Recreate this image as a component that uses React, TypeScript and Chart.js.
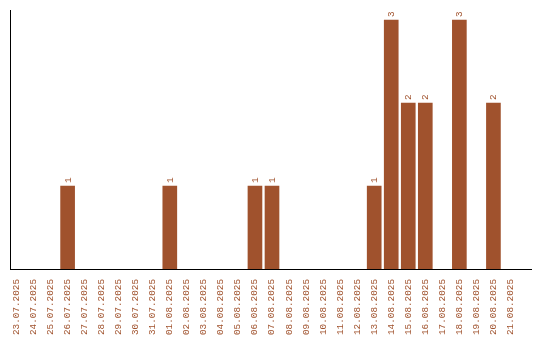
import React, { useEffect, useRef } from "react";
import { Chart, registerables } from "chart.js";

Chart.register(...registerables);

const dateLabels: string[] = [
  "23.07.2025", "24.07.2025", "25.07.2025", "26.07.2025", "27.07.2025",
  "28.07.2025", "29.07.2025", "30.07.2025", "31.07.2025", "01.08.2025",
  "02.08.2025", "03.08.2025", "04.08.2025", "05.08.2025", "06.08.2025",
  "07.08.2025", "08.08.2025", "09.08.2025", "10.08.2025", "11.08.2025",
  "12.08.2025", "13.08.2025", "14.08.2025", "15.08.2025", "16.08.2025",
  "17.08.2025", "18.08.2025", "19.08.2025", "20.08.2025", "21.08.2025",
];

const counts: number[] = [
  0, 0, 0, 1, 0,
  0, 0, 0, 0, 1,
  0, 0, 0, 0, 1,
  1, 0, 0, 0, 0,
  0, 1, 3, 2, 2,
  0, 3, 0, 2, 0,
];

const BROWN = "#A0522D";
const FONT = "'Liberation Mono', monospace";
const FONT_SIZE = 9.33;

const valueLabels = {
  id: "valueLabels",
  afterDatasetsDraw(chart: any) {
    const ctx = chart.ctx;
    const meta = chart.getDatasetMeta(0);
    ctx.save();
    ctx.fillStyle = BROWN;
    ctx.font = `${FONT_SIZE}px ${FONT}`;
    ctx.textAlign = "left";
    ctx.textBaseline = "middle";
    meta.data.forEach((el: any, i: number) => {
      const v = counts[i];
      if (!v) return;
      ctx.save();
      ctx.translate(el.x + 0.5, el.y - 3);
      ctx.rotate(-Math.PI / 2);
      ctx.fillText(String(v), 0, 0);
      ctx.restore();
    });
    ctx.restore();
  },
};

export default function App() {
  const canvasRef = useRef<HTMLCanvasElement | null>(null);

  useEffect(() => {
    if (!canvasRef.current) return;
    const chart = new Chart(canvasRef.current, {
      type: "bar",
      data: {
        datasets: [
          {
            data: counts.map((c, i) => ({ x: i, y: c === 0 ? null : c })),
            backgroundColor: BROWN,
            borderWidth: 0,
            barThickness: 14,
          },
        ],
      },
      options: {
        animation: false,
        responsive: true,
        maintainAspectRatio: false,
        layout: { padding: { top: 10, left: 10, right: 9, bottom: -5 } },
        plugins: { legend: { display: false }, tooltip: { enabled: false } },
        scales: {
          x: {
            type: "linear",
            offset: false,
            min: -0.382,
            max: 30.206,
            afterBuildTicks: (scale: any) => {
              scale.ticks = dateLabels.map((_, i) => ({ value: i }));
            },
            grid: { display: false, drawTicks: false },
            border: { display: true, color: "#000", width: 1 },
            ticks: {
              autoSkip: false,
              minRotation: 90,
              maxRotation: 90,
              padding: 10,
              color: BROWN,
              font: { family: FONT, size: FONT_SIZE },
              callback: (v: any) => dateLabels[v] ?? "",
            },
          },
          y: {
            min: 0,
            max: 3.12,
            grid: { display: false, drawTicks: false },
            border: { display: true, color: "#000", width: 1 },
            ticks: { display: false },
          },
        },
      },
      plugins: [valueLabels],
    });
    return () => chart.destroy();
  }, []);

  return (
    <div style={{ position: "fixed", left: 0, top: 0, width: 540, height: 340, background: "#fff" }}>
      <canvas ref={canvasRef} />
    </div>
  );
}
